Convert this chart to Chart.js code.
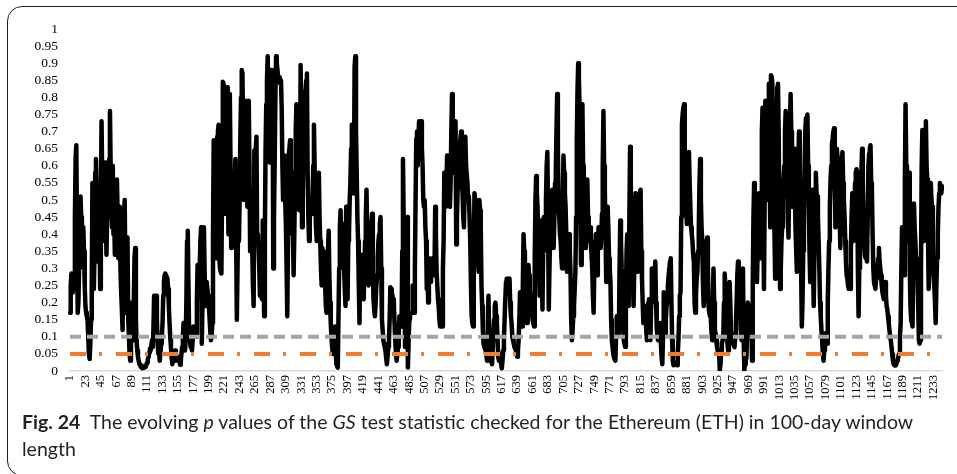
<!DOCTYPE html>
<html>
<head>
<meta charset="utf-8">
<script src="https://cdn.jsdelivr.net/npm/chart.js"></script>
<style>
  html, body { margin: 0; padding: 0; background: #fff; }
  body { width: 957px; height: 474px; position: relative; overflow: hidden; }
  .frame { position: absolute; left: 7px; top: 6px; width: 1000px; height: 468px; border: 1.5px solid #231f20; border-radius: 15px; }
  #chart { position: absolute; left: 0; top: 0; }
  .caption { position: absolute; left: 22px; top: 408px; font-family: Lato, "Open Sans", sans-serif; font-size: 19.5px; line-height: 27px; color: #231f20; white-space: nowrap; }
</style>
</head>
<body>
<div class="frame"></div>
<canvas id="chart" width="957" height="415"></canvas>
<div class="caption"><b>Fig. 24</b>&nbsp; The evolving <i>p</i> values of the <i>GS</i> test statistic checked for the Ethereum (ETH) in 100-day window<br>length</div>
<script>
  // p values, window 1..1245
  const pPart1 = [
    0.17,0.25,0.285,0.28,0.23,0.285,0.24,0.45,0.62,0.66,
    0.4,0.17,0.2,0.3,0.48,0.51,0.45,0.4,0.38,0.42,
    0.35,0.25,0.19,0.17,0.16,0.15,0.1,0.05,0.035,0.08,
    0.15,0.24,0.55,0.45,0.24,0.35,0.58,0.62,0.53,0.32,
    0.4,0.53,0.45,0.24,0.5,0.73,0.55,0.38,0.45,0.56,
    0.61,0.5,0.34,0.45,0.58,0.5,0.62,0.76,0.6,0.48,
    0.42,0.6,0.4,0.45,0.34,0.45,0.5,0.56,0.45,0.33,
    0.48,0.4,0.3,0.23,0.18,0.12,0.3,0.45,0.5,0.3,
    0.17,0.25,0.39,0.16,0.1,0.05,0.03,0.1,0.2,0.15,
    0.09,0.2,0.33,0.36,0.15,0.09,0.06,0.04,0.03,0.02,
    0.018,0.012,0.01,0.008,0.01,0.012,0.01,0.015,0.012,0.018,
    0.025,0.035,0.04,0.055,0.065,0.06,0.075,0.09,0.07,0.12,
    0.22,0.215,0.2,0.22,0.15,0.08,0.05,0.06,0.03,0.05,
    0.08,0.1,0.14,0.22,0.26,0.28,0.285,0.28,0.28,0.27,
    0.24,0.19,0.14,0.1,0.07,0.04,0.02,0.03,0.04,0.05,
    0.06,0.03,0.045,0.04,0.035,0.03,0.04,0.018,0.03,0.05,
    0.07,0.1,0.14,0.1,0.06,0.09,0.2,0.38,0.41,0.25,
    0.1,0.09,0.07,0.08,0.06,0.09,0.13,0.11,0.12,0.1,
    0.1,0.2,0.31,0.28,0.24,0.3,0.38,0.42,0.08,0.2,
    0.35,0.42,0.3,0.19,0.22,0.26,0.24,0.22,0.2,0.16,
    0.12,0.09,0.1,0.14,0.4,0.675,0.6,0.45,0.33,0.5,
    0.685,0.7,0.72,0.33,0.3,0.29,0.285,0.55,0.846,0.84,
    0.83,0.65,0.46,0.7,0.83,0.7,0.4,0.6,0.81,0.6,
    0.36,0.45,0.5,0.5,0.48,0.55,0.62,0.4,0.15,0.3,
    0.45,0.38,0.5,0.685,0.8,0.88,0.87,0.7,0.5,0.58
  ];
  const pPart2 = [
    0.55,0.79,0.7,0.48,0.6,0.79,0.6,0.35,0.4,0.42,
    0.35,0.25,0.19,0.645,0.6,0.65,0.685,0.38,0.4,0.36,
    0.3,0.22,0.25,0.22,0.21,0.44,0.3,0.16,0.4,0.65,
    0.78,0.85,0.92,0.8,0.7,0.61,0.75,0.88,0.87,0.87,
    0.3,0.45,0.61,0.8,0.92,0.9,0.88,0.85,0.86,0.86,
    0.84,0.85,0.77,0.6,0.5,0.55,0.63,0.5,0.43,0.3,
    0.16,0.4,0.63,0.65,0.675,0.6,0.55,0.58,0.4,0.28,
    0.4,0.56,0.7,0.78,0.6,0.53,0.5,0.47,0.48,0.895,
    0.7,0.42,0.5,0.655,0.72,0.8,0.82,0.85,0.87,0.58,
    0.45,0.38,0.45,0.46,0.46,0.48,0.5,0.6,0.72,0.6,
    0.48,0.42,0.38,0.45,0.52,0.58,0.45,0.38,0.3,0.25,
    0.36,0.34,0.35,0.34,0.25,0.19,0.17,0.25,0.35,0.41,
    0.28,0.2,0.14,0.1,0.07,0.05,0.1,0.12,0.13,0.06,
    0.02,0.015,0.01,0.16,0.3,0.42,0.47,0.38,0.33,0.4,
    0.43,0.3,0.24,0.19,0.48,0.3,0.21,0.38,0.4,0.5,
    0.55,0.65,0.72,0.6,0.52,0.53,0.89,0.92,0.7,0.58,
    0.45,0.38,0.25,0.14,0.34,0.3,0.26,0.24,0.22,0.21,
    0.3,0.38,0.45,0.53,0.4,0.28,0.25,0.3,0.36,0.4,
    0.43,0.46,0.3,0.21,0.18,0.16,0.2,0.25,0.28,0.33,
    0.38,0.4,0.43,0.45,0.3,0.15,0.12,0.09,0.08,0.07,
    0.06,0.04,0.02,0.04,0.07,0.09,0.15,0.245,0.24,0.23,
    0.22,0.21,0.2,0.14,0.09,0.05,0.03,0.05,0.07,0.12,
    0.16,0.15,0.14,0.13,0.35,0.62,0.45,0.28,0.07,0.2,
    0.35,0.45,0.01,0.08,0.15,0.16,0.17,0.17,0.17,0.25,
    0.2,0.17,0.3,0.5,0.68,0.7,0.6,0.68,0.73,0.65
  ];
  const pPart3 = [
    0.7,0.73,0.65,0.6,0.5,0.48,0.5,0.42,0.38,0.24,
    0.3,0.2,0.33,0.3,0.26,0.27,0.3,0.33,0.3,0.28,
    0.29,0.48,0.4,0.29,0.25,0.21,0.19,0.15,0.13,0.14,
    0.13,0.13,0.3,0.38,0.58,0.55,0.48,0.55,0.63,0.55,
    0.5,0.52,0.48,0.55,0.7,0.81,0.6,0.58,0.6,0.7,
    0.73,0.37,0.45,0.53,0.6,0.63,0.65,0.68,0.7,0.55,
    0.52,0.45,0.42,0.55,0.685,0.6,0.6,0.55,0.5,0.51,
    0.45,0.38,0.25,0.16,0.14,0.13,0.3,0.52,0.5,0.48,
    0.42,0.38,0.33,0.29,0.5,0.47,0.42,0.25,0.19,0.12,
    0.08,0.07,0.065,0.06,0.045,0.03,0.12,0.22,0.1,0.06,
    0.05,0.03,0.02,0.06,0.11,0.15,0.19,0.2,0.16,0.14,
    0.09,0.04,0.03,0.05,0.05,0.02,0.008,0.03,0.06,0.09,
    0.15,0.21,0.26,0.27,0.27,0.27,0.265,0.27,0.2,0.16,
    0.14,0.1,0.09,0.08,0.07,0.065,0.06,0.05,0.042,0.06,
    0.09,0.15,0.23,0.18,0.13,0.13,0.25,0.4,0.35,0.3,
    0.29,0.2,0.14,0.2,0.31,0.28,0.24,0.21,0.19,0.17,
    0.15,0.14,0.13,0.33,0.5,0.57,0.52,0.48,0.4,0.3,
    0.22,0.35,0.44,0.3,0.18,0.35,0.45,0.44,0.42,0.5,
    0.6,0.64,0.45,0.18,0.3,0.4,0.44,0.5,0.53,0.45,
    0.36,0.45,0.55,0.58,0.7,0.81,0.65,0.48,0.45,0.4,
    0.38,0.33,0.3,0.5,0.63,0.58,0.52,0.48,0.4,0.29,
    0.33,0.38,0.4,0.35,0.29,0.15,0.09,0.12,0.16,0.19,
    0.24,0.29,0.45,0.675,0.82,0.9,0.85,0.77,0.5,0.31,
    0.6,0.78,0.6,0.48,0.42,0.36,0.45,0.52,0.56,0.45,
    0.38,0.4,0.42,0.38,0.34,0.3,0.22,0.17,0.3,0.38
  ];
  const pPart4 = [
    0.4,0.35,0.28,0.35,0.42,0.4,0.37,0.36,0.4,0.46,
    0.6,0.76,0.6,0.53,0.4,0.26,0.35,0.48,0.42,0.33,
    0.3,0.26,0.15,0.09,0.07,0.05,0.04,0.035,0.03,0.1,
    0.16,0.14,0.12,0.11,0.3,0.44,0.38,0.3,0.28,0.15,
    0.09,0.08,0.07,0.2,0.35,0.4,0.3,0.19,0.45,0.656,
    0.55,0.45,0.38,0.28,0.19,0.3,0.45,0.52,0.4,0.29,
    0.4,0.48,0.5,0.52,0.53,0.35,0.27,0.2,0.14,0.16,
    0.18,0.19,0.12,0.09,0.15,0.2,0.21,0.15,0.09,0.2,
    0.3,0.28,0.26,0.23,0.28,0.32,0.2,0.13,0.1,0.09,
    0.09,0.12,0.14,0.08,0.04,0.02,0.1,0.23,0.18,0.11,
    0.15,0.19,0.2,0.25,0.28,0.3,0.32,0.33,0.2,0.09,
    0.03,0.017,0.02,0.025,0.022,0.02,0.017,0.05,0.09,0.16,
    0.22,0.23,0.45,0.72,0.75,0.77,0.78,0.6,0.5,0.48,
    0.43,0.5,0.58,0.64,0.55,0.48,0.42,0.4,0.38,0.34,
    0.32,0.2,0.17,0.22,0.27,0.29,0.35,0.41,0.55,0.62,
    0.5,0.42,0.38,0.25,0.19,0.22,0.27,0.3,0.35,0.39,
    0.3,0.19,0.17,0.16,0.16,0.12,0.09,0.2,0.3,0.2,
    0.12,0.11,0.09,0.07,0.06,0.05,0.05,0.003,0.02,0.06,
    0.08,0.09,0.1,0.2,0.285,0.24,0.17,0.12,0.08,0.06,
    0.2,0.26,0.2,0.11,0.1,0.09,0.08,0.075,0.07,0.1,
    0.14,0.2,0.28,0.32,0.3,0.29,0.2,0.12,0.09,0.2,
    0.3,0.1,0.003,0.02,0.03,0.04,0.12,0.2,0.19,0.17,
    0.16,0.15,0.14,0.03,0.25,0.45,0.55,0.52,0.52,0.4,
    0.26,0.35,0.45,0.52,0.4,0.33,0.5,0.7,0.77,0.5,
    0.24,0.5,0.79,0.6,0.5,0.55,0.7,0.84,0.6,0.42
  ];
  const pPart5 = [
    0.865,0.86,0.84,0.6,0.58,0.4,0.27,0.45,0.7,0.83,
    0.84,0.7,0.45,0.24,0.3,0.38,0.42,0.5,0.56,0.6,
    0.7,0.76,0.6,0.58,0.45,0.39,0.55,0.7,0.81,0.7,
    0.48,0.55,0.63,0.65,0.55,0.42,0.35,0.29,0.45,0.6,
    0.7,0.6,0.48,0.3,0.13,0.2,0.35,0.42,0.6,0.705,
    0.74,0.72,0.75,0.6,0.48,0.35,0.26,0.33,0.45,0.53,
    0.3,0.19,0.35,0.5,0.58,0.52,0.51,0.45,0.38,0.3,
    0.2,0.16,0.12,0.09,0.05,0.03,0.06,0.1,0.11,0.09,
    0.08,0.2,0.3,0.38,0.48,0.56,0.6,0.665,0.68,0.7,
    0.71,0.55,0.42,0.55,0.65,0.62,0.6,0.58,0.45,0.36,
    0.5,0.62,0.64,0.55,0.5,0.45,0.38,0.32,0.28,0.27,
    0.25,0.24,0.25,0.24,0.35,0.45,0.52,0.45,0.38,0.45,
    0.55,0.58,0.59,0.58,0.3,0.16,0.3,0.42,0.5,0.58,
    0.65,0.55,0.45,0.38,0.34,0.33,0.33,0.32,0.45,0.6,
    0.635,0.65,0.66,0.55,0.53,0.4,0.3,0.26,0.25,0.24,
    0.27,0.3,0.3,0.33,0.36,0.32,0.3,0.28,0.25,0.23,
    0.22,0.21,0.24,0.26,0.22,0.19,0.18,0.16,0.14,0.12,
    0.1,0.09,0.07,0.05,0.03,0.02,0.018,0.016,0.017,0.02,
    0.03,0.035,0.045,0.05,0.1,0.14,0.3,0.42,0.35,0.29,
    0.28,0.55,0.78,0.6,0.38,0.45,0.55,0.58,0.3,0.19,
    0.15,0.14,0.13,0.3,0.49,0.42,0.38,0.33,0.3,0.29,
    0.2,0.09,0.08,0.09,0.3,0.6,0.705,0.5,0.38,0.55,
    0.7,0.73,0.6,0.56,0.4,0.24,0.3,0.45,0.55,0.5,
    0.48,0.38,0.29,0.25,0.2,0.14,0.25,0.33,0.4,0.48,
    0.52,0.55,0.54,0.52,0.54
  ];
  const pValues = [...pPart1, ...pPart2, ...pPart3, ...pPart4, ...pPart5];

  // window numbers on the x axis
  const windows = pValues.map((_, i) => String(i + 1));
  const labelEvery = 22;

  // reference levels
  const level10 = 0.1;
  const level5 = 0.05;

  const firstW = windows[0];
  const lastW = windows[windows.length - 1];

  new Chart(document.getElementById("chart"), {
    type: "line",
    data: {
      labels: windows,
      datasets: [
        {
          label: "p value",
          data: pValues,
          borderColor: "#000000",
          borderWidth: 4.5,
          pointRadius: 0,
          tension: 0,
          borderJoinStyle: "round",
          borderCapStyle: "round",
          order: 3,
        },
        {
          label: "10%",
          data: [{ x: firstW, y: level10 }, { x: lastW, y: level10 }],
          borderColor: "#a5a5a5",
          borderWidth: 4,
          borderDash: [11, 6],
          pointRadius: 0,
          order: 2,
        },
        {
          label: "5%",
          data: [{ x: firstW, y: level5 }, { x: lastW, y: level5 }],
          borderColor: "#ed7d31",
          borderWidth: 4,
          borderDash: [16, 13, 3, 14],
          pointRadius: 0,
          order: 1,
        },
      ],
    },
    options: {
      responsive: false,
      animation: false,
      devicePixelRatio: 1,
      layout: { padding: { left: 10, right: 15, top: 29, bottom: 7 } },
      plugins: { legend: { display: false }, tooltip: { enabled: false } },
      scales: {
        x: {
          offset: false,
          grid: { display: false, drawTicks: false },
          border: { display: true, color: "#d9d9d9", width: 1.5 },
          ticks: {
            autoSkip: false,
            minRotation: 90,
            maxRotation: 90,
            padding: 4,
            color: "#000",
            font: { family: "Liberation Serif", size: 12.5 },
          },
          afterBuildTicks: (s) => {
            s.ticks = s.ticks.filter((t) => t.value % labelEvery === 0);
          },
          afterFit: (s) => { s.height = 37; },
        },
        y: {
          min: 0,
          max: 1,
          grid: { display: false, drawTicks: false },
          border: { display: false },
          ticks: {
            stepSize: 0.05,
            autoSkip: false,
            padding: 12,
            color: "#000",
            font: { family: "Liberation Serif", size: 13.5 },
            callback: (v) => String(Math.round(v * 100) / 100),
          },
          afterFit: (s) => { s.width = 60; },
        },
      },
    },
  });
</script>
</body>
</html>
